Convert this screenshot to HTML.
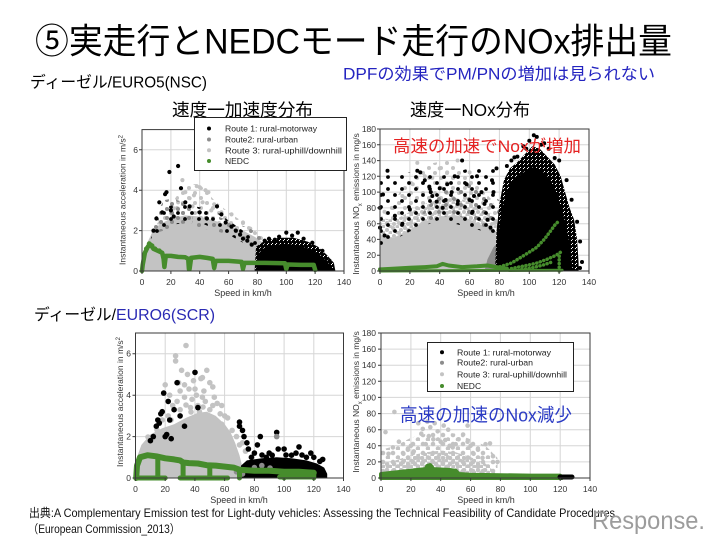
<!DOCTYPE html>
<html><head><meta charset="utf-8">
<style>html,body{margin:0;padding:0;background:#fff;}svg{display:block}</style>
</head>
<body>
<svg xmlns="http://www.w3.org/2000/svg" width="720" height="540" viewBox="0 0 720 540" font-family="'Liberation Sans','Noto Sans CJK JP',sans-serif">
<defs>
<pattern id="pLGd" width="7" height="6" patternUnits="userSpaceOnUse"><circle cx="2" cy="2" r="2" fill="#c3c3c3"/><circle cx="5.5" cy="5" r="2" fill="#c3c3c3"/></pattern>
<pattern id="pLGs" width="12" height="10" patternUnits="userSpaceOnUse"><circle cx="3" cy="3" r="2" fill="#c3c3c3"/><circle cx="9" cy="8" r="2" fill="#c3c3c3"/></pattern>
<pattern id="pMG" width="11" height="9" patternUnits="userSpaceOnUse"><circle cx="2" cy="2" r="2" fill="#8c8c8c"/><circle cx="7" cy="6" r="2" fill="#8c8c8c"/></pattern>
<pattern id="pMGs" width="15" height="13" patternUnits="userSpaceOnUse"><circle cx="4" cy="4" r="2" fill="#8c8c8c"/><circle cx="11" cy="10" r="2" fill="#8c8c8c"/></pattern>
<pattern id="pBKs" width="14" height="12" patternUnits="userSpaceOnUse"><circle cx="3" cy="3" r="1.9" fill="#000"/><circle cx="10" cy="9" r="1.9" fill="#000"/></pattern>
<pattern id="pBKd" width="4" height="4" patternUnits="userSpaceOnUse"><circle cx="1" cy="1" r="2.05" fill="#000"/><circle cx="3" cy="3" r="2.05" fill="#000"/></pattern>
<pattern id="pLGD" width="7" height="6" patternUnits="userSpaceOnUse"><circle cx="2" cy="2" r="2.3" fill="#c3c3c3"/><circle cx="5.5" cy="5" r="2.3" fill="#c3c3c3"/></pattern>
<pattern id="pLGDs" width="10" height="9" patternUnits="userSpaceOnUse"><circle cx="3" cy="3" r="2.3" fill="#c3c3c3"/><circle cx="8" cy="7.5" r="2.3" fill="#c3c3c3"/></pattern>
</defs>
<rect width="720" height="540" fill="#fff"/>

<!-- ================= GRIDS ================= -->
<g stroke="#d6d6d6" stroke-width="1">
<path d="M170.9 129.6V271M199.7 129.6V271M228.6 129.6V271M257.4 129.6V271M286.3 129.6V271M315.1 129.6V271M142 230.6H344M142 190.2H344M142 149.8H344"/>
<path d="M409.9 129V271M439.7 129V271M469.6 129V271M499.4 129V271M529.3 129V271M559.1 129V271M380 255.2H589M380 239.4H589M380 223.7H589M380 207.9H589M380 192.1H589M380 176.3H589M380 160.6H589M380 144.8H589"/>
<path d="M165.2 333V478M194.9 333V478M224.6 333V478M254.4 333V478M284.1 333V478M313.8 333V478M135.5 436.6H343.5M135.5 395.2H343.5M135.5 353.7H343.5"/>
<path d="M410.9 333V478M440.7 333V478M470.6 333V478M500.4 333V478M530.3 333V478M560.2 333V478M381 461.9H590M381 445.8H590M381 429.7H590M381 413.6H590M381 397.4H590M381 381.3H590M381 365.2H590M381 349.1H590"/>
</g>

<!-- ================= CHART A ================= -->
<polygon fill="url(#pLGs)" points="156.4,224.5 170.9,204.3 185.3,184.1 199.7,184.1 214.2,200.3 228.6,212.4 250.2,226.6 264.7,238.7 269,252.8 263.2,242.7 243,230.6 214.2,220.5 185.3,215.4 170.9,218.5 159.3,224.5"/>
<polygon fill="#c3c3c3" points="142,271 142.7,256.9 146.3,244.7 152.1,232.6 159.3,224.5 170.9,218.5 185.3,215.4 199.7,216.5 214.2,220.5 228.6,225.5 243,230.6 254.6,236.7 263.2,242.7 269,252.8 271.9,271"/>
<g fill="#c3c3c3">
<circle cx="182.4" cy="180.1" r="2.1"/><circle cx="196.8" cy="186.2" r="2.1"/><circle cx="199.7" cy="187.2" r="2.1"/><circle cx="205.5" cy="190.2" r="2.1"/><circle cx="208.4" cy="192.2" r="2.1"/><circle cx="194" cy="195.3" r="2.1"/><circle cx="185.3" cy="192.2" r="2.1"/><circle cx="189.6" cy="198.3" r="2.1"/><circle cx="214.2" cy="204.3" r="2.1"/><circle cx="221.4" cy="212.4" r="2.1"/><circle cx="178.1" cy="202.3" r="2.1"/><circle cx="202.6" cy="202.3" r="2.1"/><circle cx="211.3" cy="210.4" r="2.1"/><circle cx="231.5" cy="214.4" r="2.1"/><circle cx="243" cy="222.5" r="2.1"/><circle cx="250.2" cy="228.6" r="2.1"/><circle cx="192.5" cy="206.4" r="2.1"/><circle cx="173.7" cy="208.4" r="2.1"/>
</g>
<polygon fill="url(#pMG)" points="150.7,234.6 156.4,214.4 163.6,200.3 173.7,198.3 185.3,204.3 192.5,210.4 192.5,222.5 178.1,224.5 163.6,230.6"/>
<polygon fill="url(#pMGs)" points="192.5,226.6 214.2,230.6 228.6,234.6 243,240.7 257.4,246.8 266.1,252.8 266.1,238.7 250.2,228.6 228.6,220.5 206.9,212.4 192.5,210.4"/>
<polygon fill="url(#pBKs)" points="150.7,238.7 163.6,206.4 185.3,204.3 214.2,210.4 243,230.6 257.4,240.7 257.4,250.8 228.6,234.6 199.7,222.5 170.9,224.5 153.5,240.7"/>
<polygon fill="url(#pBKd)" points="254.6,271 256,246.8 264.7,240.7 279.1,237.7 293.5,237.7 308,241.7 318,246.8 326.7,254.8 333.9,262.9 335.4,271"/>
<polygon fill="#000" points="256,271 257.4,254.8 263.2,248.8 271.9,245.8 283.4,243.7 295,244.7 306.5,247.8 315.2,251.8 322.4,256.9 328.1,262.9 332.5,268 332.5,271"/>
<g fill="#000">
<circle cx="169.4" cy="172" r="2.1"/><circle cx="178.1" cy="166" r="2.1"/><circle cx="181" cy="188.2" r="2.1"/><circle cx="166.5" cy="192.2" r="2.1"/><circle cx="165.1" cy="194.2" r="2.1"/><circle cx="159.3" cy="202.3" r="2.1"/><circle cx="162.2" cy="212.4" r="2.1"/><circle cx="156.4" cy="218.5" r="2.1"/><circle cx="153.5" cy="230.6" r="2.1"/><circle cx="170.9" cy="210.4" r="2.1"/><circle cx="173.7" cy="216.5" r="2.1"/><circle cx="185.3" cy="202.3" r="2.1"/><circle cx="189.6" cy="206.4" r="2.1"/><circle cx="199.7" cy="212.4" r="2.1"/><circle cx="206.9" cy="218.5" r="2.1"/><circle cx="217" cy="206.4" r="2.1"/><circle cx="221.4" cy="214.4" r="2.1"/><circle cx="225.7" cy="222.5" r="2.1"/><circle cx="231.5" cy="226.6" r="2.1"/><circle cx="235.8" cy="230.6" r="2.1"/><circle cx="240.1" cy="234.6" r="2.1"/><circle cx="243" cy="238.7" r="2.1"/><circle cx="247.3" cy="240.7" r="2.1"/><circle cx="251.7" cy="244.7" r="2.1"/>
<circle cx="286.3" cy="232.6" r="2.1"/><circle cx="297.8" cy="232.6" r="2.1"/><circle cx="279.1" cy="236.7" r="2.1"/><circle cx="303.6" cy="238.7" r="2.1"/><circle cx="269" cy="238.7" r="2.1"/><circle cx="292.1" cy="235.6" r="2.1"/><circle cx="312.3" cy="242.7" r="2.1"/><circle cx="322.4" cy="250.8" r="2.1"/><circle cx="329.6" cy="260.9" r="2.1"/><circle cx="264.7" cy="240.7" r="2.1"/><circle cx="274.8" cy="239.7" r="2.1"/>
</g>
<polyline fill="none" stroke="#468c2c" stroke-width="4.5" stroke-linejoin="round" stroke-linecap="round" points="142,271 142.7,264.9 144.9,252.8 147.8,246.8 150.7,244.7 153.5,248.8 157.9,250.8 162.2,252.8 163.6,258.9 164.4,267 165.8,255.9 170.9,255.9 178.1,256.9 185.3,257.3 188.2,258.9 188.9,269 189.6,269 191.1,257.9 199.7,256.9 206.9,257.9 212.7,258.9 214.2,268 215.6,260.9 228.6,260.9 241.6,261.9 243,269 244.5,262.9 264.7,262.9 284.9,263.3 286.3,269 287.7,264.5 300.7,264.9 313.7,264.9 315.2,270"/>
<g fill="#468c2c"><circle cx="149.2" cy="243.7" r="2.4"/><circle cx="146.3" cy="248.8" r="2.4"/><circle cx="152.1" cy="245.8" r="2.4"/><circle cx="155" cy="248.8" r="2.4"/><circle cx="159.3" cy="250.8" r="2.4"/></g>
<rect x="142" y="129.6" width="202" height="141.4" fill="none" stroke="#3a3a3a" stroke-width="1"/>
<path stroke="#3a3a3a" stroke-width="1" d="M142 271v3M170.9 271v3M199.7 271v3M228.6 271v3M257.4 271v3M286.3 271v3M315.1 271v3M344 271v3M139 271h3M139 230.6h3M139 190.2h3M139 149.8h3"/>

<!-- ================= CHART B ================= -->
<polygon fill="url(#pLGs)" points="380,218.1 394.9,200 409.9,176.3 424.8,164.5 447.2,160.5 462.1,168.4 477,184.2 492,200 502.4,223.7 505.4,247.3 496.5,235.5 487.5,227.6 477,222.9 466.6,218.1 454.7,215 439.7,216.6 424.8,221.3 409.9,229.2 394.9,237.1"/>
<polygon fill="url(#pLGd)" points="380,218.1 394.9,219.7 409.9,211.8 424.8,203.9 439.7,199.2 454.7,197.6 466.6,200.8 477,205.5 487.5,210.2 496.5,218.1 502.4,230 506.9,247.3 508.4,271 506.9,271 505.4,261.5 502.4,247.3 496.5,235.5 487.5,227.6 477,222.9 466.6,218.1 454.7,215 439.7,216.6 424.8,221.3 409.9,229.2 394.9,237.1 387.5,237.9 380,235.5"/>
<polygon fill="#c3c3c3" points="380,271 380,235.5 387.5,237.9 394.9,237.1 409.9,229.2 424.8,221.3 439.7,216.6 454.7,215 466.6,218.1 477,222.9 487.5,227.6 496.5,235.5 502.4,247.3 505.4,261.5 506.9,271"/>
<g fill="#c3c3c3">
<circle cx="417.3" cy="162.9" r="2"/><circle cx="439.7" cy="168.4" r="2"/><circle cx="457.6" cy="160.5" r="2"/><circle cx="424.8" cy="176.3" r="2"/><circle cx="412.8" cy="184.2" r="2"/><circle cx="447.2" cy="172.4" r="2"/><circle cx="469.6" cy="172.4" r="2"/><circle cx="432.3" cy="177.9" r="2"/><circle cx="402.4" cy="196" r="2"/><circle cx="391.9" cy="207.9" r="2"/><circle cx="384.5" cy="211.8" r="2"/>
</g>
<polygon fill="url(#pMGs)" points="409.9,227.6 439.7,192.1 469.6,184.2 499.4,200 506.9,239.4 492,231.5 454.7,214.2 424.8,222.1"/>
<polygon fill="#8c8c8c" points="484.5,271 487.5,259.2 493.5,247.3 499.4,241 505.4,239.4 511.4,247.3 514.4,263.1 514.4,271"/>
<polygon fill="url(#pBKs)" points="380,247.3 380,176.3 409.9,172.4 439.7,176.3 469.6,168.4 496.5,168.4 499.4,239.4 484.5,231.5 439.7,219.7 409.9,231.5"/>
<polygon fill="url(#pBKd)" points="495,271 496.5,231.6 499.4,203.9 503.9,180.3 509.9,168.4 517.4,162.1 524.8,154.2 532.3,146.3 539.8,148.7 547.2,156.6 554.7,164.5 560.7,176.3 565.1,192.1 569.6,207.9 574.1,219.7 577.1,239.4 578.6,263.1 578.6,271"/>
<polygon fill="#000" points="497.9,271 497.9,239.4 500.9,215.8 505.4,196 511.4,182.6 518.8,176.3 526.3,170 533.8,166.9 541.2,170 548.7,177.9 554.7,188.2 559.2,201.6 563.6,215.8 568.1,235.5 571.1,255.2 572.6,271"/>
<g fill="#000">
<circle cx="533.8" cy="135.3" r="2"/><circle cx="536.8" cy="136.9" r="2"/><circle cx="529.3" cy="140.8" r="2"/><circle cx="544.2" cy="143.2" r="2"/><circle cx="523.3" cy="146.3" r="2"/><circle cx="548.7" cy="148.7" r="2"/><circle cx="559.2" cy="160.5" r="2"/><circle cx="541.2" cy="144.8" r="2"/><circle cx="517.4" cy="156.6" r="2"/><circle cx="526.3" cy="148.7" r="2"/><circle cx="554.7" cy="158" r="2"/><circle cx="566.6" cy="180.1" r="2"/><circle cx="571.6" cy="199.8" r="2"/><circle cx="577.1" cy="221.7" r="2"/><circle cx="580.1" cy="241.5" r="2"/><circle cx="511.4" cy="160.5" r="2"/><circle cx="506.9" cy="166" r="2"/><circle cx="514.4" cy="157.4" r="2"/><circle cx="582" cy="262" r="2"/><circle cx="580" cy="268" r="2"/>
<circle cx="387.5" cy="170.8" r="2"/><circle cx="383" cy="194.5" r="2"/><circle cx="380" cy="207.9" r="2"/><circle cx="380" cy="227.6" r="2"/><circle cx="384.5" cy="235.5" r="2"/><circle cx="409.9" cy="209.5" r="2"/><circle cx="417.3" cy="170.8" r="2"/><circle cx="420.3" cy="172.4" r="2"/><circle cx="429.3" cy="186.6" r="2"/><circle cx="430.8" cy="192.1" r="2"/><circle cx="432.3" cy="196" r="2"/><circle cx="436.7" cy="201.6" r="2"/><circle cx="445.7" cy="200" r="2"/><circle cx="439.7" cy="188.2" r="2"/><circle cx="451.7" cy="192.1" r="2"/><circle cx="462.1" cy="160.5" r="2"/><circle cx="466.6" cy="184.2" r="2"/><circle cx="469.6" cy="200" r="2"/><circle cx="472.6" cy="211.8" r="2"/><circle cx="477" cy="176.3" r="2"/><circle cx="481.5" cy="192.1" r="2"/><circle cx="484.5" cy="203.9" r="2"/><circle cx="487.5" cy="219.7" r="2"/><circle cx="490.5" cy="227.6" r="2"/><circle cx="454.7" cy="176.3" r="2"/><circle cx="447.2" cy="184.2" r="2"/><circle cx="424.8" cy="180.3" r="2"/><circle cx="402.4" cy="223.7" r="2"/><circle cx="394.9" cy="215.8" r="2"/><circle cx="492" cy="180.3" r="2"/><circle cx="496.5" cy="168.4" r="2"/><circle cx="493.5" cy="192.1" r="2"/><circle cx="474" cy="196" r="2"/><circle cx="457.6" cy="203.9" r="2"/><circle cx="442.7" cy="207.9" r="2"/>
</g>
<g fill="none" stroke="#468c2c" stroke-linejoin="round" stroke-linecap="round">
<polyline stroke-width="4" points="380,269.4 394.9,268.6 409.9,267.8 424.8,267.1 436.7,266.3 442.7,263.9 448.7,265.5 462.1,267.1 477,266.3 487.5,265.5 496.5,267.1 506.9,268.6"/>
<polyline stroke-width="3" points="380,271 562.1,270.2"/>
<polyline stroke-width="3.5" stroke-dasharray="0.1 3.6" points="496.5,267.8 511.4,263.1 521.8,256.8 529.3,252.1 536.8,247.3 544.2,239.4 550.2,231.5 554.7,225.2 557.7,222.1"/>
<polyline stroke-width="3.5" stroke-dasharray="0.1 3.6" points="511.4,268.6 526.3,265.5 536.8,263.1 547.2,259.2 556.2,255.2 560.7,252.1"/>
<polyline stroke-width="3.5" stroke-dasharray="0.1 3.6" points="559.2,271 559.2,253.6"/>
<polyline stroke-width="3.5" stroke-dasharray="0.1 3.6" points="521.8,269.4 532.3,267.8 544.2,264.7 553.2,261.5"/>
</g>
<rect x="380" y="129" width="209" height="142" fill="none" stroke="#3a3a3a" stroke-width="1"/>
<path stroke="#3a3a3a" stroke-width="1" d="M380 271v3M409.9 271v3M439.7 271v3M469.6 271v3M499.4 271v3M529.3 271v3M559.1 271v3M589 271v3M377 271h3M377 255.2h3M377 239.4h3M377 223.7h3M377 207.9h3M377 192.1h3M377 176.3h3M377 160.6h3M377 144.8h3M377 129h3"/>

<!-- ================= CHART C ================= -->
<polygon fill="#c3c3c3" points="135.5,478 136.2,459.4 141.4,444.9 150.4,434.5 162.2,428.3 174.1,424.2 186,417.9 197.9,412.8 206.8,411.7 215.7,415.9 224.7,424.2 230.6,432.4 235.1,442.8 239.5,455.2 242.5,467.6 244,478"/>
<g fill="#c3c3c3">
<circle cx="186" cy="345.5" r="2.8"/><circle cx="175.6" cy="355.8" r="2.8"/><circle cx="175.6" cy="361" r="2.8"/><circle cx="206.8" cy="370.3" r="2.8"/><circle cx="202.4" cy="377.6" r="2.8"/><circle cx="200.9" cy="378.6" r="2.8"/><circle cx="193.5" cy="380.7" r="2.8"/><circle cx="209.8" cy="382.7" r="2.8"/><circle cx="212.8" cy="386.9" r="2.8"/><circle cx="189" cy="389" r="2.8"/><circle cx="180.1" cy="391" r="2.8"/><circle cx="184.5" cy="397.2" r="2.8"/><circle cx="196.4" cy="395.2" r="2.8"/><circle cx="192" cy="399.3" r="2.8"/><circle cx="205.3" cy="401.4" r="2.8"/><circle cx="217.2" cy="403.4" r="2.8"/><circle cx="197.9" cy="405.5" r="2.8"/><circle cx="209.8" cy="409.7" r="2.8"/><circle cx="220.2" cy="413.8" r="2.8"/><circle cx="224.7" cy="415.9" r="2.8"/><circle cx="227.6" cy="417.9" r="2.8"/><circle cx="172.7" cy="405.5" r="2.8"/><circle cx="168.2" cy="415.9" r="2.8"/><circle cx="165.2" cy="384.8" r="2.8"/><circle cx="178.6" cy="382.7" r="2.8"/><circle cx="181.6" cy="370.3" r="2.8"/><circle cx="169.7" cy="395.2" r="2.8"/><circle cx="187.5" cy="374.4" r="2.8"/><circle cx="199.4" cy="411.7" r="2.8"/><circle cx="214.3" cy="397.2" r="2.8"/><circle cx="221.7" cy="424.2" r="2.8"/><circle cx="232.1" cy="430.4" r="2.8"/><circle cx="236.5" cy="436.6" r="2.8"/><circle cx="239.5" cy="444.9" r="2.8"/><circle cx="242.5" cy="442.8" r="2.8"/><circle cx="245.5" cy="451.1" r="2.8"/><circle cx="233.6" cy="453.1" r="2.8"/><circle cx="190.5" cy="407.6" r="2.8"/><circle cx="202.4" cy="397.2" r="2.8"/><circle cx="195" cy="389" r="2.8"/><circle cx="177.1" cy="401.4" r="2.8"/><circle cx="184.5" cy="384.8" r="2.8"/><circle cx="203.9" cy="391" r="2.8"/><circle cx="212.8" cy="405.5" r="2.8"/><circle cx="180.1" cy="409.7" r="2.8"/><circle cx="162.2" cy="420" r="2.8"/><circle cx="221.7" cy="405.5" r="2.8"/><circle cx="186" cy="405" r="2.8"/><circle cx="191" cy="412" r="2.8"/><circle cx="203" cy="407" r="2.8"/><circle cx="171" cy="420" r="2.8"/><circle cx="157" cy="430" r="2.8"/><circle cx="148" cy="437" r="2.8"/>
</g>
<polygon fill="#000" points="239.5,478 241,465.6 246.9,460.4 261.8,458.3 276.7,457.3 291.5,458.3 306.4,460.4 316.8,463.5 324.2,467.6 327.2,473.9 327.2,478"/>
<g fill="#000">
<circle cx="239.5" cy="422.1" r="2.8"/><circle cx="239.5" cy="426.2" r="2.8"/><circle cx="242.5" cy="430.4" r="2.8"/><circle cx="244" cy="436.6" r="2.8"/><circle cx="246.9" cy="442.8" r="2.8"/><circle cx="248.4" cy="449" r="2.8"/><circle cx="260.3" cy="436.6" r="2.8"/><circle cx="276.7" cy="432.4" r="2.8"/><circle cx="278.2" cy="449" r="2.8"/><circle cx="284.1" cy="449" r="2.8"/><circle cx="299" cy="446.9" r="2.8"/><circle cx="291.5" cy="455.2" r="2.8"/><circle cx="306.4" cy="457.3" r="2.8"/><circle cx="313.8" cy="457.3" r="2.8"/><circle cx="319.8" cy="461.4" r="2.8"/><circle cx="269.2" cy="453.1" r="2.8"/><circle cx="254.4" cy="453.1" r="2.8"/><circle cx="266.3" cy="457.3" r="2.8"/><circle cx="251.4" cy="457.3" r="2.8"/><circle cx="257.4" cy="444.9" r="2.8"/><circle cx="272.2" cy="455.2" r="2.8"/><circle cx="296" cy="453.1" r="2.8"/><circle cx="310.8" cy="453.1" r="2.8"/><circle cx="322.7" cy="459.4" r="2.8"/><circle cx="286" cy="455" r="2.8"/><circle cx="302" cy="455" r="2.8"/><circle cx="262" cy="455" r="2.8"/>
<circle cx="157.8" cy="420" r="2.8"/><circle cx="159.3" cy="423.1" r="2.8"/><circle cx="160.8" cy="413.8" r="2.8"/><circle cx="162.2" cy="411.7" r="2.8"/><circle cx="163.7" cy="393.1" r="2.8"/><circle cx="168.2" cy="401.4" r="2.8"/><circle cx="169.7" cy="420" r="2.8"/><circle cx="165.2" cy="436.6" r="2.8"/><circle cx="171.2" cy="438.7" r="2.8"/><circle cx="177.1" cy="382.7" r="2.8"/><circle cx="180.1" cy="415.9" r="2.8"/><circle cx="184.5" cy="426.2" r="2.8"/><circle cx="195" cy="372.4" r="2.8"/><circle cx="197.9" cy="407.6" r="2.8"/><circle cx="153.3" cy="436.6" r="2.8"/><circle cx="150.4" cy="440.7" r="2.8"/><circle cx="174.1" cy="409.7" r="2.8"/><circle cx="156.3" cy="426.2" r="2.8"/><circle cx="166.7" cy="434.5" r="2.8"/>
</g>
<g fill="#8c8c8c"><circle cx="276.7" cy="436.6" r="2.8"/><circle cx="261.8" cy="465.6" r="2.8"/><circle cx="254.4" cy="467.6" r="2.8"/><circle cx="236.5" cy="471.8" r="2.8"/><circle cx="242.5" cy="473.9" r="2.8"/><circle cx="270" cy="468" r="2.8"/></g>
<g fill="none" stroke="#468c2c" stroke-linejoin="round" stroke-linecap="round">
<polyline stroke-width="6" points="136.2,478 137,465.6 140,457.3 147.4,455.2 156.3,456.3 165.2,458.3 174.1,459.4 180.1,460.4 183.1,462.5 189,463.1 197.9,463.5 206.8,465.2 215.7,465.6 224.7,466.6 233.6,467.6 239.5,469.7 254.4,470.8 269.2,470.8 284.1,471.8 299,471.8 313.8,472.8"/>
<path stroke-width="5" d="M136 478H165.2M180.1 478H227.6M279.6 477H313.8M157.8 478V456.5M183.1 478V462.5M209.8 478V465.4M239.5 478V469.7M284.1 478V471.8M313.8 478V472.8"/>
</g>
<rect x="135.5" y="333" width="208" height="145" fill="none" stroke="#3a3a3a" stroke-width="1"/>
<path stroke="#3a3a3a" stroke-width="1" d="M135.5 478v3M165.2 478v3M194.9 478v3M224.6 478v3M254.4 478v3M284.1 478v3M313.8 478v3M343.5 478v3M132.5 478h3M132.5 436.6h3M132.5 395.2h3M132.5 353.7h3"/>

<!-- ================= CHART D ================= -->
<polygon fill="url(#pLGDs)" points="381,478 381,449.8 395.9,445.8 410.9,437.7 425.8,433.7 440.7,431.3 455.7,433.7 470.6,439.3 485.5,445.8 497.5,457.9 497.5,478"/>
<polygon fill="url(#pLGD)" points="381,478 381,463.5 395.9,460.3 410.9,455.4 425.8,452.2 440.7,450.6 455.7,452.2 470.6,457.1 485.5,463.5 494.5,471.6 497.5,478"/>
<g fill="#c3c3c3">
<circle cx="394.4" cy="411.9" r="2.3"/><circle cx="385.5" cy="432.1" r="2.3"/><circle cx="388.5" cy="453.8" r="2.3"/><circle cx="392.9" cy="447.4" r="2.3"/><circle cx="403.4" cy="453.8" r="2.3"/><circle cx="410.9" cy="445.8" r="2.3"/><circle cx="418.3" cy="423.2" r="2.3"/><circle cx="422.8" cy="428.9" r="2.3"/><circle cx="421.3" cy="433.7" r="2.3"/><circle cx="428.8" cy="436.1" r="2.3"/><circle cx="433.3" cy="439.3" r="2.3"/><circle cx="437.7" cy="431.3" r="2.3"/><circle cx="440.7" cy="441.7" r="2.3"/><circle cx="445.2" cy="440.1" r="2.3"/><circle cx="449.7" cy="445.8" r="2.3"/><circle cx="455.7" cy="444.2" r="2.3"/><circle cx="463.1" cy="434.5" r="2.3"/><circle cx="467.6" cy="441.7" r="2.3"/><circle cx="470.6" cy="445.8" r="2.3"/><circle cx="478" cy="449.8" r="2.3"/><circle cx="485.5" cy="444.2" r="2.3"/><circle cx="490" cy="443.4" r="2.3"/><circle cx="493" cy="456.2" r="2.3"/><circle cx="497.5" cy="461.9" r="2.3"/><circle cx="398.9" cy="441.7" r="2.3"/><circle cx="407.9" cy="449.8" r="2.3"/><circle cx="413.8" cy="451.4" r="2.3"/><circle cx="425.8" cy="444.2" r="2.3"/><circle cx="452.7" cy="447.4" r="2.3"/><circle cx="458.6" cy="439.3" r="2.3"/><circle cx="473.6" cy="453.8" r="2.3"/><circle cx="482.5" cy="457.9" r="2.3"/><circle cx="448.2" cy="429.7" r="2.3"/><circle cx="443.7" cy="425.6" r="2.3"/><circle cx="434.7" cy="423.2" r="2.3"/><circle cx="430.3" cy="427.2" r="2.3"/><circle cx="427.3" cy="421.6" r="2.3"/><circle cx="467.6" cy="425.6" r="2.3"/>
</g>
<polygon fill="#468c2c" stroke="#468c2c" stroke-width="4" stroke-linejoin="round" points="381,478 381,474 395.9,472.4 410.9,470.7 418.3,469.9 425.8,469.1 427.3,465.9 430.3,465.1 433.3,469.1 448.2,469.9 455.7,470.7 458.6,474 470.6,474.8 500.4,475.2 530.3,475.6 560.2,475.6 561.7,478"/>
<path stroke="#000" stroke-width="5" stroke-linecap="round" d="M560 477H572"/>
<rect x="381" y="333" width="209" height="145" fill="none" stroke="#3a3a3a" stroke-width="1"/>
<path stroke="#3a3a3a" stroke-width="1" d="M381 478v3M410.9 478v3M440.7 478v3M470.6 478v3M500.4 478v3M530.3 478v3M560.2 478v3M590 478v3M378 478h3M378 461.9h3M378 445.8h3M378 429.7h3M378 413.6h3M378 397.4h3M378 381.3h3M378 365.2h3M378 349.1h3M378 333h3"/>

<!-- Legend A -->
<rect x="194.5" y="117.5" width="152" height="53" fill="#fff" stroke="#222" stroke-width="1"/>
<circle cx="209" cy="128.5" r="2" fill="#000"/>
<circle cx="209" cy="139.5" r="2" fill="#8c8c8c"/>
<circle cx="209" cy="150.3" r="2" fill="#c3c3c3"/>
<circle cx="209" cy="161" r="2" fill="#468c2c"/>
<g font-size="8.5" fill="#222">
<text x="225" y="131.5" textLength="92" lengthAdjust="spacingAndGlyphs">Route 1: rural-motorway</text>
<text x="225" y="142.5" textLength="73" lengthAdjust="spacingAndGlyphs">Route2: rural-urban</text>
<text x="225" y="153.3" textLength="117" lengthAdjust="spacingAndGlyphs">Route 3: rural-uphill/downhill</text>
<text x="225" y="164">NEDC</text>
</g>

<!-- Legend D -->
<rect x="427.5" y="342.5" width="146" height="49" fill="#fff" stroke="#222" stroke-width="1"/>
<circle cx="442" cy="352.3" r="2" fill="#000"/>
<circle cx="442" cy="362.7" r="2" fill="#8c8c8c"/>
<circle cx="442" cy="374.3" r="2" fill="#c3c3c3"/>
<circle cx="442" cy="386" r="2" fill="#468c2c"/>
<g font-size="8.5" fill="#222">
<text x="457" y="355.3" textLength="94" lengthAdjust="spacingAndGlyphs">Route 1: rural-motorway</text>
<text x="457" y="365.7" textLength="76" lengthAdjust="spacingAndGlyphs">Route2: rural-urban</text>
<text x="457" y="377.3" textLength="110" lengthAdjust="spacingAndGlyphs">Route 3: rural-uphill/downhill</text>
<text x="457" y="389">NEDC</text>
</g>

<!-- Titles -->
<text x="35" y="53.5" font-size="35" fill="#000" textLength="637" lengthAdjust="spacingAndGlyphs">⑤実走行とNEDCモード走行のNOx排出量</text>
<text x="30" y="87.5" font-size="16" fill="#000" textLength="82" lengthAdjust="spacingAndGlyphs">ディーゼル/</text>
<text x="112" y="87.5" font-size="16" fill="#000" textLength="95" lengthAdjust="spacingAndGlyphs">EURO5(NSC)</text>
<text x="343" y="79.5" font-size="16.5" fill="#2424c0" textLength="312" lengthAdjust="spacingAndGlyphs">DPFの効果でPM/PNの増加は見られない</text>
<text x="172" y="116" font-size="17.5" fill="#000" textLength="141" lengthAdjust="spacingAndGlyphs">速度一加速度分布</text>
<text x="410" y="116" font-size="17.5" fill="#000" textLength="120" lengthAdjust="spacingAndGlyphs">速度一NOx分布</text>
<text x="34" y="320" font-size="16" fill="#000" textLength="82" lengthAdjust="spacingAndGlyphs">ディーゼル/</text>
<text x="116" y="320" font-size="16" fill="#2a2ab4" textLength="99" lengthAdjust="spacingAndGlyphs">EURO6(SCR)</text>

<text x="393" y="152" font-size="17" fill="#e52222" textLength="188" lengthAdjust="spacingAndGlyphs">高速の加速でNoxが増加</text>
<text x="400" y="421.5" font-size="18.5" fill="#2a3ac4" textLength="172" lengthAdjust="spacingAndGlyphs">高速の加速のNox減少</text>

<!-- Tick labels -->
<g font-size="8.5" fill="#333" text-anchor="middle">
<text x="142" y="285">0</text><text x="170.9" y="285">20</text><text x="199.7" y="285">40</text><text x="228.6" y="285">60</text><text x="257.4" y="285">80</text><text x="286.3" y="285">100</text><text x="315.1" y="285">120</text><text x="344" y="285">140</text>
<text x="380" y="285">0</text><text x="409.9" y="285">20</text><text x="439.7" y="285">40</text><text x="469.6" y="285">60</text><text x="499.4" y="285">80</text><text x="529.3" y="285">100</text><text x="559.1" y="285">120</text><text x="589" y="285">140</text>
<text x="135.5" y="492">0</text><text x="165.2" y="492">20</text><text x="194.9" y="492">40</text><text x="224.6" y="492">60</text><text x="254.4" y="492">80</text><text x="284.1" y="492">100</text><text x="313.8" y="492">120</text><text x="343.5" y="492">140</text>
<text x="381" y="492">0</text><text x="410.9" y="492">20</text><text x="440.7" y="492">40</text><text x="470.6" y="492">60</text><text x="500.4" y="492">80</text><text x="530.3" y="492">100</text><text x="560.1" y="492">120</text><text x="590" y="492">140</text>
</g>
<g font-size="8.5" fill="#333" text-anchor="end">
<text x="138" y="274">0</text><text x="138" y="233.6">2</text><text x="138" y="193.2">4</text><text x="138" y="152.8">6</text>
<text x="376" y="274">0</text><text x="376" y="258.2">20</text><text x="376" y="242.4">40</text><text x="376" y="226.7">60</text><text x="376" y="210.9">80</text><text x="376" y="195.1">100</text><text x="376" y="179.3">120</text><text x="376" y="163.6">140</text><text x="376" y="147.8">160</text><text x="376" y="132">180</text>
<text x="131" y="481">0</text><text x="131" y="439.6">2</text><text x="131" y="398.1">4</text><text x="131" y="356.7">6</text>
<text x="376" y="481">0</text><text x="376" y="464.9">20</text><text x="376" y="448.8">40</text><text x="376" y="432.7">60</text><text x="376" y="416.6">80</text><text x="376" y="400.4">100</text><text x="376" y="384.3">120</text><text x="376" y="368.2">140</text><text x="376" y="352.1">160</text><text x="376" y="336">180</text>
</g>
<g font-size="9" fill="#333" text-anchor="middle">
<text x="243" y="296">Speed in km/h</text>
<text x="486" y="296">Speed in km/h</text>
<text x="239" y="503">Speed in km/h</text>
<text x="486" y="503">Speed in km/h</text>
</g>
<g font-size="8.5" fill="#333" text-anchor="middle">
<text transform="translate(125.5,200) rotate(-90)">Instantaneous acceleration in m/s<tspan baseline-shift="super" font-size="6">2</tspan></text>
<text transform="translate(359,204) rotate(-90)">Instantaneous NO<tspan baseline-shift="sub" font-size="6">x</tspan> emissions in mg/s</text>
<text transform="translate(123,402) rotate(-90)">Instantaneous acceleration in m/s<tspan baseline-shift="super" font-size="6">2</tspan></text>
<text transform="translate(359,402) rotate(-90)">Instantaneous NO<tspan baseline-shift="sub" font-size="6">x</tspan> emissions in mg/s</text>
</g>

<!-- Footer -->
<text x="29" y="517" font-size="12" fill="#111" textLength="586" lengthAdjust="spacingAndGlyphs">出典:A Complementary Emission test for Light-duty vehicles: Assessing the Technical Feasibility of Candidate Procedures</text>
<text x="28" y="533" font-size="12" fill="#111" textLength="152" lengthAdjust="spacingAndGlyphs">（European Commission_2013）</text>
<text x="592" y="529" font-size="25" fill="#9c9c9c" textLength="113" lengthAdjust="spacingAndGlyphs">Response.</text>
</svg>
</body></html>
